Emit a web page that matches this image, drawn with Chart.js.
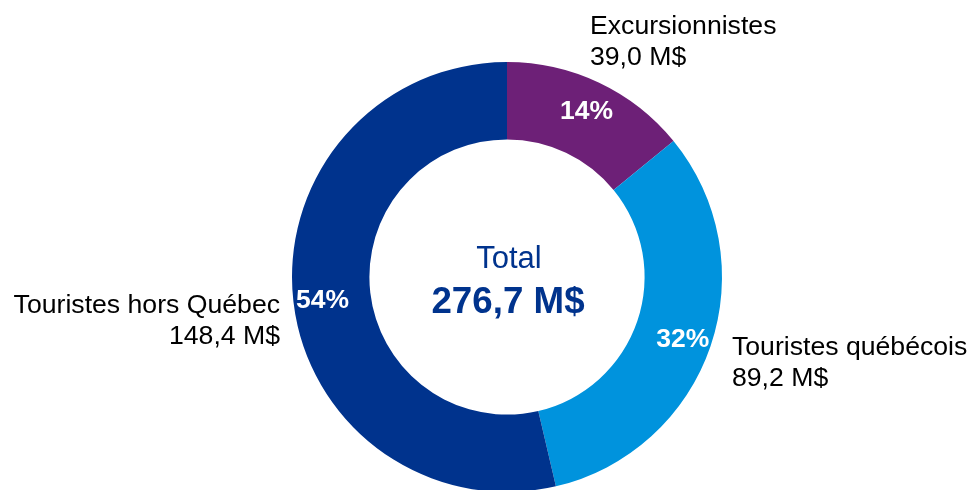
<!DOCTYPE html>
<html>
<head>
<meta charset="utf-8">
<script src="https://cdn.jsdelivr.net/npm/chart.js@4"></script>
<style>
  html,body{margin:0;padding:0;background:#fff;overflow:hidden;}
  #wrap{width:969px;height:490px;overflow:hidden;}
</style>
</head>
<body>
<div id="wrap"><canvas id="chart" width="969" height="510"></canvas></div>
<script>
// data
const categories = ['Excursionnistes', 'Touristes québécois', 'Touristes hors Québec'];
const valuesMS = [39.0, 89.2, 148.4];
const pctLabels = ['14%', '32%', '54%'];
const totalLabel = '276,7 M$';
const sliceColors = ['#6D2077', '#0093DD', '#00338D'];

const fmt = v => v.toFixed(1).replace('.', ',') + ' M$';

// outside labels: anchor + alignment per slice
const outside = [
  {x:590, y:34, align:'left'},
  {x:732, y:355, align:'left'},
  {x:280, y:313, align:'right'}
];

// text in the source is a bit wider than Liberation Sans, stretch it horizontally
function stretchText(ctx, txt, x, y, sx){
  ctx.save();
  ctx.translate(x, y);
  ctx.scale(sx, 1);
  ctx.fillText(txt, 0, 0);
  ctx.restore();
}

const labelPlugin = {
  id:'labels',
  afterDatasetsDraw(chart){
    const ctx = chart.ctx;
    const arcs = chart.getDatasetMeta(0).data;
    ctx.save();
    // percent labels inside the ring
    arcs.forEach((a,i)=>{
      const p = a.getProps(['x','y','startAngle','endAngle','innerRadius','outerRadius'], true);
      const mid = (p.startAngle + p.endAngle)/2;
      const r = p.innerRadius + 0.62*(p.outerRadius - p.innerRadius);
      ctx.fillStyle = '#fff';
      ctx.font = 'bold 25px "Liberation Sans", Arial, sans-serif';
      ctx.textAlign = 'center';
      ctx.textBaseline = 'middle';
      stretchText(ctx, pctLabels[i], p.x + Math.cos(mid)*r, p.y + Math.sin(mid)*r + 3, 1.06);
    });
    // category names + values
    ctx.textBaseline = 'alphabetic';
    ctx.fillStyle = '#000';
    ctx.font = '25px "Liberation Sans", Arial, sans-serif';
    outside.forEach((o,i)=>{
      ctx.textAlign = o.align;
      stretchText(ctx, categories[i], o.x, o.y, 1.065);
      stretchText(ctx, fmt(valuesMS[i]), o.x, o.y + 31, 1.065);
    });
    // centre total
    const c = arcs[0];
    ctx.fillStyle = '#00338D';
    ctx.textAlign = 'center';
    ctx.font = '31px "Liberation Sans", Arial, sans-serif';
    ctx.fillText('Total', c.x + 2, 268);
    ctx.font = 'bold 36px "Liberation Sans", Arial, sans-serif';
    stretchText(ctx, totalLabel, c.x + 1, 313, 1.02);
    ctx.restore();
  }
};

new Chart(document.getElementById('chart'), {
  type:'doughnut',
  data:{
    labels:categories,
    datasets:[{data:valuesMS, backgroundColor:sliceColors, borderWidth:0}]
  },
  options:{
    responsive:false,
    animation:false,
    cutout:'64%',
    layout:{padding:{left:292, right:247, top:62, bottom:18}},
    plugins:{legend:{display:false}, tooltip:{enabled:false}}
  },
  plugins:[labelPlugin]
});
</script>
</body>
</html>
